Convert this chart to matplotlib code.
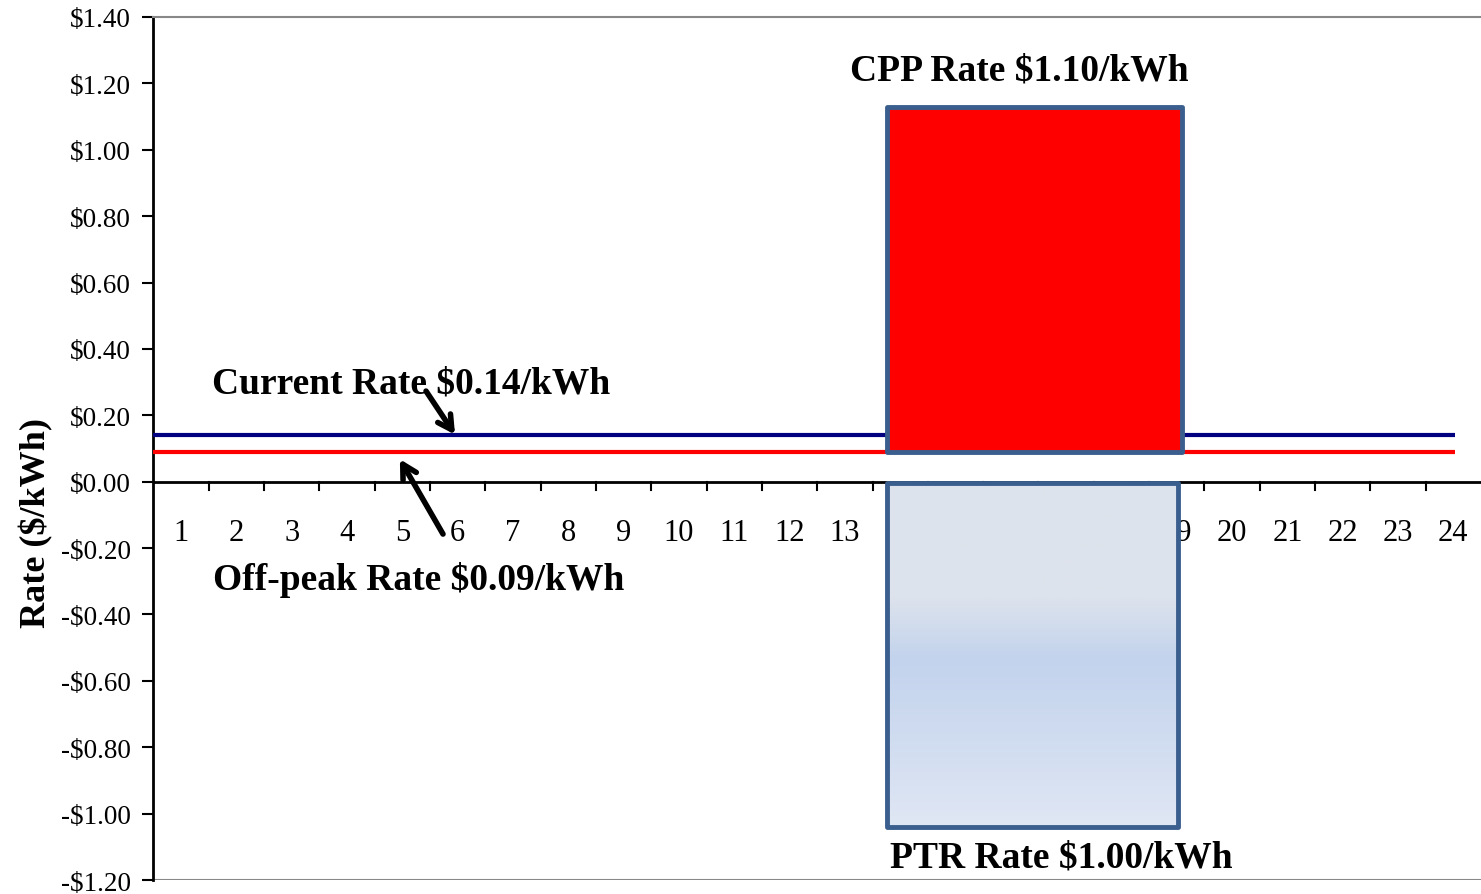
import numpy as np
import matplotlib
matplotlib.use("Agg")
import matplotlib.pyplot as plt
from matplotlib.colors import LinearSegmentedColormap
from matplotlib.patches import Rectangle

# ---- data ----
hours = list(range(1, 25))
current_rate = 0.14
offpeak_rate = 0.09
cpp_start, cpp_end = 13.77, 19.1     # event window (category coordinates)
cpp_bottom, cpp_top = 0.09, 1.13
ptr_start, ptr_end = 13.77, 19.02
ptr_top, ptr_bottom = -0.005, -1.04
yticks = [-1.2, -1.0, -0.8, -0.6, -0.4, -0.2, 0.0, 0.2, 0.4, 0.6, 0.8, 1.0, 1.2, 1.4]

plt.rcParams['font.family'] = ['Liberation Serif', 'DejaVu Serif']

fig = plt.figure(figsize=(14.81, 8.95), dpi=100)
ax = fig.add_axes([0.1036, 0.0156, 0.8964, 0.9643])

ax.set_xlim(0.5, 24.5)
ax.set_ylim(-1.2, 1.4)

# lines
ax.hlines(current_rate, 0.46, hours[-1] + 0.03, color='#000080', lw=3, zorder=3)
ax.hlines(offpeak_rate, 0.46, hours[-1] + 0.03, color='#ff0000', lw=3, zorder=3)

# CPP box
ax.add_patch(Rectangle((cpp_start, cpp_bottom), cpp_end - cpp_start, cpp_top - cpp_bottom,
                       facecolor='#ff0000', edgecolor='#3a5f8e', lw=3.5, zorder=4,
                       joinstyle='round'))

# PTR box with gradient
cmap = LinearSegmentedColormap.from_list('ptr', [
    (0.0, '#dde3ec'), (0.33, '#dde3ec'), (0.51, '#c3d3ed'),
    (0.75, '#d0dcf0'), (1.0, '#e0e7f4')])
grad = np.linspace(0, 1, 256).reshape(-1, 1)
im = ax.imshow(grad, cmap=cmap, aspect='auto',
               extent=(ptr_start, ptr_end, ptr_bottom, ptr_top), origin='upper', zorder=4)
rect = Rectangle((ptr_start, ptr_bottom), ptr_end - ptr_start, ptr_top - ptr_bottom,
                 facecolor='none', edgecolor='#3a5f8e', lw=3.5, zorder=5, joinstyle='round')
ax.add_patch(rect)
im.set_clip_path(rect)

# spines
ax.spines['right'].set_visible(False)
ax.spines['top'].set_color('#888888')
ax.spines['top'].set_linewidth(1.5)
ax.spines['bottom'].set_visible(False)
ax.spines['left'].set_linewidth(2)

# y axis
ax.set_yticks(yticks)
ax.set_yticklabels([('-$%.2f' % abs(v)) if v < 0 else ('$%.2f' % v) for v in yticks],
                   fontsize=19.5)
ax.tick_params(axis='y', length=8, width=1.5, direction='out', pad=8)

# x axis at y = 0
ax.axhline(0, color='black', lw=2, zorder=2)
ax.axhline(-1.2, color='#888888', lw=1.5, zorder=2)
ax.set_xticks([])
for b in np.arange(1.5, 24.5, 1.0):
    ax.plot([b, b], [0, -0.025], color='black', lw=1.5, zorder=2)
for h in hours:
    ax.text(h, -0.176, str(h), ha='center', va='baseline', fontsize=22, zorder=3)

ax.set_ylabel('Rate ($/kWh)', fontsize=26, fontweight='bold')
ax.yaxis.set_label_coords(-0.0755, 0.415)

# annotations
ax.text(5.15, 0.27, 'Current Rate $0.14/kWh', ha='center', va='baseline',
        fontsize=27, fontweight='bold', zorder=6)
ax.text(5.3, -0.323, 'Off-peak Rate $0.09/kWh', ha='center', va='baseline',
        fontsize=27, fontweight='bold', zorder=6)
ax.text(16.16, 1.213, 'CPP Rate $1.10/kWh', ha='center', va='baseline',
        fontsize=27, fontweight='bold', zorder=6)
ax.text(16.92, -1.158, 'PTR Rate $1.00/kWh', ha='center', va='baseline',
        fontsize=27, fontweight='bold', zorder=6)

ax.annotate('', xy=(5.98, 0.135), xytext=(5.4, 0.28),
            arrowprops=dict(arrowstyle='->,head_length=1.0,head_width=0.55', lw=4, color='black'),
            zorder=6)
ax.annotate('', xy=(4.93, 0.075), xytext=(5.76, -0.165),
            arrowprops=dict(arrowstyle='->,head_length=1.0,head_width=0.55', lw=4, color='black'),
            zorder=6)

fig.savefig('out.png', dpi=100)
